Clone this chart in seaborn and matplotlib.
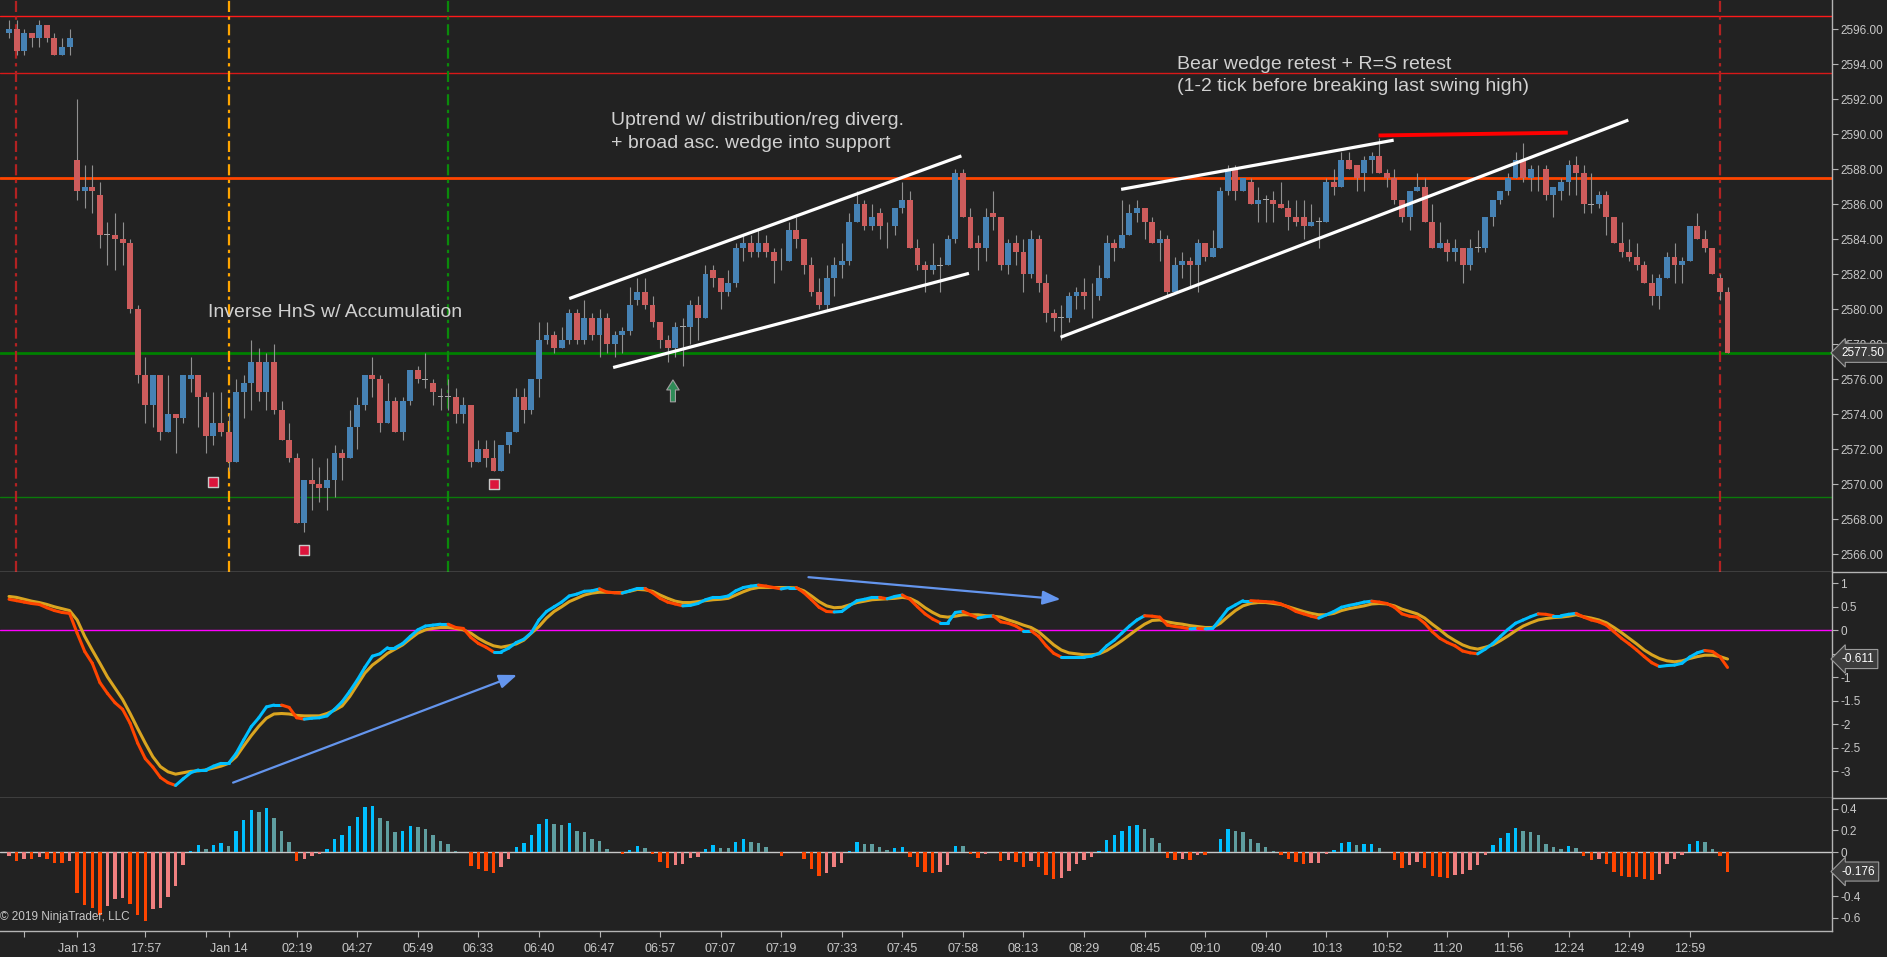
import numpy as np
import matplotlib
matplotlib.use("Agg")
import matplotlib.pyplot as plt
import seaborn as sns
from matplotlib.collections import LineCollection
from matplotlib.lines import Line2D

# ---- price bars (one per bar index) ----
opens = [2595.75, 2596.0, 2594.75, 2595.75, 2595.5, 2596.25, 2595.5, 2594.5, 2595.0, 2588.5,
         2586.75, 2587.0, 2586.5, 2584.25, 2584.25, 2584.0, 2583.75, 2580.0, 2576.25, 2574.5,
         2576.25, 2573.0, 2574.0, 2573.75, 2576.0, 2576.25, 2575.0, 2572.75, 2573.5, 2573.0,
         2571.25, 2575.25, 2575.75, 2577.0, 2575.25, 2577.0, 2574.25, 2572.5, 2571.5, 2567.75,
         2570.25, 2570.0, 2569.75, 2570.25, 2571.75, 2571.5, 2573.25, 2574.5, 2576.25, 2576.0,
         2573.5, 2574.75, 2573.0, 2574.75, 2576.5, 2576.0, 2575.75, 2575.0, 2575.0, 2575.0,
         2574.0, 2574.5, 2571.25, 2572.0, 2571.5, 2570.75, 2572.25, 2573.0, 2575.0, 2574.25,
         2576.0, 2578.25, 2578.5, 2577.75, 2578.25, 2579.75, 2578.25, 2579.5, 2578.5, 2579.5,
         2578.0, 2578.5, 2578.75, 2580.5, 2581.0, 2580.25, 2579.25, 2578.25, 2577.75, 2579.0,
         2579.0, 2580.25, 2579.5, 2582.25, 2581.75, 2581.0, 2581.5, 2583.5, 2583.75, 2583.25,
         2583.75, 2583.25, 2582.75, 2582.75, 2584.5, 2584.0, 2582.5, 2581.0, 2580.25, 2581.75,
         2582.5, 2582.75, 2585.0, 2586.0, 2584.75, 2585.5, 2584.75, 2584.75, 2585.75, 2586.25,
         2583.5, 2582.5, 2582.25, 2582.5, 2582.5, 2584.0, 2587.75, 2585.25, 2583.75, 2583.5,
         2585.5, 2585.25, 2582.5, 2583.75, 2583.25, 2582.0, 2584.0, 2581.5, 2579.75, 2579.5,
         2579.5, 2580.75, 2581.0, 2580.75, 2580.75, 2581.75, 2583.75, 2583.5, 2584.25, 2585.5,
         2585.75, 2585.0, 2583.75, 2584.0, 2581.0, 2582.5, 2582.75, 2582.5, 2583.75, 2583.0,
         2583.5, 2586.75, 2588.0, 2586.75, 2587.25, 2586.0, 2586.25, 2586.25, 2586.0, 2585.75,
         2585.25, 2585.25, 2584.75, 2585.0, 2585.0, 2587.25, 2587.0, 2588.5, 2588.25, 2587.75,
         2588.5, 2588.75, 2587.75, 2587.5, 2586.25, 2585.25, 2586.75, 2587.0, 2585.0, 2583.5,
         2583.75, 2583.25, 2583.5, 2582.5, 2583.5, 2583.5, 2585.25, 2586.25, 2586.75, 2587.5,
         2588.5, 2587.5, 2588.0, 2588.0, 2586.5, 2586.75, 2587.25, 2588.25, 2587.75, 2586.0,
         2586.0, 2586.5, 2585.25, 2583.75, 2583.25, 2583.0, 2582.5, 2581.5, 2580.75, 2581.75,
         2583.0, 2582.5, 2582.75, 2584.75, 2584.0, 2583.5, 2581.75, 2581.0]
closes = [2596.0, 2594.75, 2595.75, 2595.5, 2596.25, 2595.5, 2594.5, 2595.0, 2595.5, 2586.75,
          2587.0, 2586.75, 2584.25, 2584.25, 2584.0, 2583.75, 2580.0, 2576.25, 2574.5, 2576.25,
          2573.0, 2574.0, 2573.75, 2576.25, 2576.25, 2575.0, 2572.75, 2573.5, 2573.0, 2571.25,
          2575.25, 2575.75, 2577.0, 2575.25, 2577.0, 2574.25, 2572.5, 2571.5, 2567.75, 2570.25,
          2570.0, 2569.75, 2570.25, 2571.75, 2571.5, 2573.25, 2574.5, 2576.25, 2576.0, 2573.5,
          2574.75, 2573.0, 2574.75, 2576.5, 2576.0, 2576.0, 2575.25, 2575.0, 2575.0, 2574.0,
          2574.5, 2571.25, 2572.0, 2571.5, 2570.75, 2572.25, 2573.0, 2575.0, 2574.25, 2576.0,
          2578.25, 2578.5, 2577.75, 2578.25, 2579.75, 2578.25, 2579.5, 2578.5, 2579.5, 2578.0,
          2578.5, 2578.75, 2580.25, 2581.0, 2580.25, 2579.25, 2578.25, 2577.75, 2579.0, 2579.0,
          2580.25, 2579.5, 2582.0, 2581.75, 2581.0, 2581.5, 2583.5, 2583.75, 2583.25, 2583.75,
          2583.25, 2582.75, 2582.75, 2584.5, 2584.0, 2582.5, 2581.0, 2580.25, 2581.75, 2582.5,
          2582.75, 2585.0, 2586.0, 2584.75, 2585.25, 2584.75, 2584.75, 2585.75, 2586.25, 2583.5,
          2582.5, 2582.25, 2582.5, 2582.5, 2584.0, 2587.75, 2585.25, 2583.5, 2583.5, 2585.25,
          2585.25, 2582.5, 2583.75, 2583.25, 2582.0, 2584.0, 2581.5, 2579.75, 2579.5, 2579.5,
          2580.75, 2581.0, 2580.75, 2580.75, 2581.75, 2583.75, 2583.5, 2584.25, 2585.5, 2585.75,
          2585.0, 2583.75, 2584.0, 2581.0, 2582.5, 2582.75, 2582.5, 2583.75, 2583.0, 2583.5,
          2586.75, 2588.0, 2586.75, 2587.5, 2586.0, 2586.25, 2586.25, 2586.0, 2585.75, 2585.25,
          2585.0, 2584.75, 2585.0, 2585.0, 2587.25, 2587.0, 2588.5, 2588.0, 2587.5, 2588.5,
          2588.75, 2587.75, 2587.5, 2586.25, 2585.25, 2586.75, 2587.0, 2585.0, 2583.5, 2583.75,
          2583.25, 2583.5, 2582.5, 2583.5, 2583.5, 2585.25, 2586.25, 2586.75, 2587.5, 2588.5,
          2587.5, 2588.0, 2588.0, 2586.5, 2587.0, 2587.25, 2588.25, 2587.75, 2586.0, 2586.0,
          2586.5, 2585.25, 2583.75, 2583.25, 2583.0, 2582.5, 2581.5, 2580.75, 2581.75, 2583.0,
          2582.5, 2582.75, 2584.75, 2584.0, 2583.5, 2582.0, 2581.0, 2577.5]
highs = [2596.5, 2596.5, 2596.0, 2595.75, 2596.5, 2596.25, 2595.75, 2595.5, 2596.0, 2592.0,
         2588.25, 2588.25, 2587.25, 2585.0, 2585.5, 2585.0, 2584.0, 2580.25, 2577.25, 2576.25,
         2576.25, 2576.25, 2574.0, 2576.25, 2577.25, 2576.25, 2575.25, 2575.25, 2575.25, 2574.0,
         2576.0, 2576.25, 2578.25, 2577.75, 2577.5, 2578.0, 2574.75, 2573.5, 2571.75, 2570.25,
         2571.5, 2571.0, 2571.5, 2572.25, 2572.0, 2574.25, 2575.0, 2576.25, 2577.25, 2576.25,
         2575.75, 2575.0, 2575.0, 2576.5, 2576.75, 2577.5, 2576.0, 2575.5, 2576.0, 2575.5,
         2575.0, 2574.5, 2572.5, 2572.5, 2572.5, 2572.25, 2573.0, 2575.5, 2575.5, 2576.0,
         2579.25, 2579.25, 2578.75, 2579.0, 2580.0, 2580.0, 2580.5, 2579.75, 2580.0, 2579.75,
         2578.75, 2579.0, 2581.25, 2581.75, 2581.75, 2580.75, 2579.25, 2578.5, 2579.25, 2579.5,
         2580.5, 2580.75, 2582.5, 2582.5, 2581.75, 2582.25, 2583.75, 2584.25, 2584.25, 2584.5,
         2584.25, 2583.5, 2583.5, 2585.0, 2585.25, 2584.0, 2583.0, 2581.75, 2582.5, 2583.0,
         2583.75, 2585.5, 2586.75, 2586.25, 2586.0, 2585.75, 2585.0, 2585.75, 2587.25, 2586.75,
         2584.0, 2582.75, 2583.75, 2583.0, 2584.25, 2588.0, 2588.0, 2585.75, 2584.25, 2585.75,
         2586.75, 2585.25, 2584.0, 2584.25, 2584.0, 2584.5, 2584.25, 2582.0, 2580.0, 2580.25,
         2581.0, 2581.25, 2581.75, 2581.5, 2582.5, 2584.25, 2584.0, 2586.25, 2586.0, 2586.25,
         2585.75, 2585.25, 2584.5, 2584.25, 2583.0, 2583.25, 2583.0, 2584.0, 2583.75, 2584.5,
         2587.0, 2588.25, 2588.25, 2587.5, 2587.5, 2587.0, 2586.5, 2586.75, 2587.25, 2586.25,
         2586.25, 2586.25, 2586.0, 2585.25, 2587.5, 2588.0, 2589.0, 2589.0, 2588.25, 2588.75,
         2589.0, 2589.75, 2588.0, 2588.0, 2586.25, 2586.75, 2587.75, 2587.5, 2586.0, 2585.0,
         2584.0, 2584.0, 2583.5, 2584.0, 2584.5, 2585.25, 2586.25, 2586.75, 2587.75, 2589.0,
         2589.5, 2588.25, 2588.25, 2588.25, 2587.0, 2587.5, 2588.5, 2588.75, 2588.25, 2587.75,
         2586.75, 2586.75, 2585.25, 2585.0, 2584.0, 2583.75, 2582.75, 2582.0, 2582.0, 2583.25,
         2583.75, 2583.0, 2584.75, 2585.5, 2584.5, 2583.5, 2582.0, 2581.25]
lows = [2595.5, 2594.5, 2594.5, 2595.0, 2595.0, 2595.25, 2594.5, 2594.5, 2594.5, 2586.25,
        2585.75, 2585.5, 2583.5, 2582.5, 2582.25, 2582.5, 2579.75, 2575.75, 2573.5, 2573.25,
        2572.5, 2573.0, 2571.75, 2573.5, 2575.25, 2573.25, 2571.75, 2572.25, 2572.75, 2570.75,
        2571.25, 2573.75, 2574.25, 2574.75, 2574.25, 2574.0, 2572.5, 2571.25, 2567.75, 2567.25,
        2568.5, 2569.0, 2568.5, 2569.25, 2570.25, 2571.5, 2572.0, 2574.25, 2575.0, 2573.0,
        2573.5, 2573.0, 2572.5, 2574.5, 2575.75, 2575.5, 2574.5, 2574.25, 2574.25, 2573.5,
        2573.5, 2571.0, 2571.25, 2571.0, 2570.75, 2570.75, 2571.75, 2573.0, 2573.5, 2574.0,
        2575.0, 2578.0, 2577.5, 2577.75, 2578.0, 2578.0, 2578.0, 2578.25, 2577.25, 2577.5,
        2577.25, 2577.5, 2578.5, 2580.25, 2580.0, 2579.0, 2577.75, 2577.0, 2577.25, 2576.75,
        2578.0, 2578.25, 2579.5, 2581.25, 2580.0, 2580.75, 2581.25, 2582.75, 2583.0, 2583.0,
        2583.0, 2581.5, 2582.25, 2582.75, 2583.5, 2582.0, 2580.75, 2580.0, 2580.0, 2580.75,
        2581.75, 2582.5, 2585.0, 2584.5, 2584.5, 2584.0, 2583.5, 2584.25, 2585.5, 2583.5,
        2582.25, 2581.0, 2582.0, 2581.0, 2582.5, 2583.75, 2585.25, 2583.5, 2582.25, 2582.75,
        2584.5, 2582.25, 2582.0, 2582.5, 2581.0, 2581.75, 2581.0, 2579.25, 2578.75, 2578.25,
        2579.25, 2580.0, 2580.0, 2579.5, 2580.5, 2581.75, 2582.75, 2583.5, 2584.25, 2585.0,
        2584.0, 2583.75, 2582.75, 2580.75, 2581.0, 2581.75, 2581.25, 2581.0, 2582.75, 2583.0,
        2583.5, 2586.5, 2586.25, 2586.75, 2586.0, 2585.0, 2585.0, 2585.0, 2585.75, 2584.5,
        2584.75, 2584.0, 2584.75, 2583.5, 2585.0, 2586.5, 2587.0, 2588.0, 2586.75, 2586.75,
        2587.75, 2587.75, 2587.0, 2586.0, 2585.0, 2584.5, 2586.75, 2585.0, 2583.5, 2583.5,
        2582.75, 2582.75, 2581.5, 2582.25, 2583.25, 2583.25, 2584.75, 2586.0, 2586.5, 2587.5,
        2587.25, 2586.75, 2586.75, 2586.25, 2585.25, 2586.25, 2586.5, 2586.5, 2585.5, 2585.5,
        2585.75, 2584.25, 2583.75, 2583.0, 2582.75, 2582.25, 2581.5, 2580.25, 2580.0, 2581.75,
        2581.5, 2581.5, 2582.75, 2584.0, 2583.25, 2582.0, 2580.5, 2577.5]

# ---- oscillator (fast coloured line + slow line) ----
fast = [0.66, 0.63, 0.60, 0.57, 0.55, 0.48, 0.42, 0.38, 0.36, -0.06,
        -0.45, -0.70, -1.11, -1.34, -1.54, -1.68, -1.98, -2.40, -2.73, -2.91,
        -3.13, -3.24, -3.30, -3.16, -3.03, -2.97, -2.97, -2.89, -2.83, -2.83,
        -2.62, -2.33, -2.05, -1.86, -1.63, -1.59, -1.59, -1.64, -1.86, -1.89,
        -1.87, -1.86, -1.82, -1.68, -1.52, -1.30, -1.06, -0.79, -0.55, -0.50,
        -0.37, -0.37, -0.28, -0.13, 0.01, 0.09, 0.11, 0.13, 0.13, 0.06,
        0.04, -0.15, -0.28, -0.36, -0.46, -0.46, -0.38, -0.26, -0.19, -0.05,
        0.22, 0.40, 0.50, 0.60, 0.73, 0.77, 0.83, 0.84, 0.88, 0.81,
        0.80, 0.79, 0.84, 0.89, 0.89, 0.80, 0.68, 0.60, 0.56, 0.52,
        0.53, 0.57, 0.65, 0.70, 0.70, 0.73, 0.84, 0.91, 0.94, 0.96,
        0.94, 0.91, 0.88, 0.91, 0.91, 0.80, 0.65, 0.49, 0.40, 0.39,
        0.40, 0.52, 0.63, 0.66, 0.70, 0.70, 0.67, 0.72, 0.75, 0.66,
        0.50, 0.35, 0.24, 0.16, 0.16, 0.38, 0.40, 0.33, 0.26, 0.29,
        0.31, 0.18, 0.15, 0.09, -0.01, -0.01, -0.13, -0.33, -0.49, -0.57,
        -0.57, -0.57, -0.57, -0.55, -0.49, -0.33, -0.21, -0.06, 0.09, 0.22,
        0.31, 0.30, 0.28, 0.11, 0.08, 0.06, 0.03, 0.04, 0.03, 0.04,
        0.24, 0.45, 0.54, 0.63, 0.63, 0.62, 0.61, 0.60, 0.56, 0.49,
        0.40, 0.35, 0.30, 0.26, 0.33, 0.40, 0.49, 0.53, 0.56, 0.60,
        0.62, 0.60, 0.57, 0.49, 0.35, 0.30, 0.28, 0.15, -0.03, -0.17,
        -0.26, -0.33, -0.44, -0.48, -0.50, -0.40, -0.28, -0.13, 0.02, 0.15,
        0.22, 0.29, 0.35, 0.34, 0.31, 0.31, 0.34, 0.36, 0.28, 0.22,
        0.18, 0.11, -0.03, -0.17, -0.29, -0.42, -0.56, -0.69, -0.77, -0.75,
        -0.74, -0.70, -0.57, -0.48, -0.43, -0.45, -0.56, -0.79]
slow = [0.72, 0.70, 0.66, 0.62, 0.59, 0.55, 0.50, 0.46, 0.42, 0.22,
        -0.13, -0.42, -0.70, -0.99, -1.23, -1.47, -1.77, -2.09, -2.40, -2.69,
        -2.90, -3.01, -3.06, -3.03, -3.00, -2.99, -2.97, -2.93, -2.89, -2.83,
        -2.69, -2.46, -2.24, -2.04, -1.87, -1.78, -1.77, -1.78, -1.81, -1.82,
        -1.82, -1.82, -1.77, -1.70, -1.61, -1.41, -1.16, -0.91, -0.74, -0.62,
        -0.49, -0.40, -0.31, -0.18, -0.06, 0.01, 0.04, 0.06, 0.06, 0.04,
        0.01, -0.06, -0.17, -0.26, -0.33, -0.36, -0.33, -0.29, -0.21, -0.06,
        0.08, 0.26, 0.40, 0.50, 0.61, 0.68, 0.75, 0.79, 0.81, 0.81,
        0.80, 0.80, 0.83, 0.87, 0.86, 0.83, 0.75, 0.68, 0.62, 0.59,
        0.59, 0.61, 0.63, 0.65, 0.66, 0.68, 0.75, 0.82, 0.88, 0.91,
        0.91, 0.91, 0.91, 0.91, 0.90, 0.84, 0.73, 0.61, 0.52, 0.48,
        0.49, 0.54, 0.59, 0.62, 0.65, 0.66, 0.67, 0.68, 0.70, 0.68,
        0.60, 0.48, 0.38, 0.30, 0.28, 0.30, 0.33, 0.33, 0.33, 0.31,
        0.30, 0.28, 0.22, 0.17, 0.11, 0.06, -0.03, -0.17, -0.31, -0.42,
        -0.48, -0.50, -0.52, -0.52, -0.50, -0.43, -0.33, -0.22, -0.10, 0.02,
        0.13, 0.21, 0.22, 0.18, 0.15, 0.13, 0.10, 0.08, 0.06, 0.06,
        0.15, 0.29, 0.42, 0.52, 0.57, 0.59, 0.59, 0.57, 0.55, 0.50,
        0.45, 0.40, 0.36, 0.33, 0.33, 0.36, 0.42, 0.46, 0.49, 0.52,
        0.56, 0.57, 0.56, 0.52, 0.45, 0.40, 0.35, 0.26, 0.13, 0.01,
        -0.12, -0.22, -0.31, -0.37, -0.40, -0.36, -0.31, -0.22, -0.12, -0.01,
        0.09, 0.16, 0.22, 0.25, 0.27, 0.28, 0.30, 0.33, 0.29, 0.26,
        0.22, 0.16, 0.06, -0.05, -0.17, -0.29, -0.42, -0.52, -0.60, -0.65,
        -0.67, -0.65, -0.60, -0.56, -0.53, -0.53, -0.56, -0.611]

# ---- histogram ----
hist = [-0.03, -0.076, -0.058, -0.064, -0.04, -0.058, -0.095, -0.097, -0.076, -0.37,
        -0.48, -0.51, -0.57, -0.49, -0.43, -0.42, -0.47, -0.57, -0.63, -0.52,
        -0.51, -0.41, -0.31, -0.12, 0.012, 0.064, 0.027, 0.064, 0.085, 0.058,
        0.195, 0.296, 0.387, 0.366, 0.405, 0.314, 0.195, 0.095, -0.076, -0.058,
        -0.03, -0.012, 0.03, 0.125, 0.159, 0.24, 0.323, 0.415, 0.424, 0.314,
        0.287, 0.185, 0.195, 0.24, 0.232, 0.213, 0.159, 0.104, 0.076, 0.012,
        0.0, -0.122, -0.149, -0.168, -0.186, -0.131, -0.058, 0.049, 0.085, 0.159,
        0.259, 0.305, 0.259, 0.25, 0.268, 0.195, 0.186, 0.122, 0.104, 0.03,
        0.0, -0.012, 0.02, 0.058, 0.04, -0.012, -0.085, -0.14, -0.113, -0.104,
        -0.049, -0.045, 0.03, 0.067, 0.04, 0.038, 0.095, 0.122, 0.095, 0.085,
        0.049, 0.003, -0.03, 0.003, 0.0, -0.058, -0.149, -0.213, -0.186, -0.131,
        -0.095, 0.012, 0.095, 0.076, 0.074, 0.049, 0.021, 0.04, 0.049, -0.04,
        -0.131, -0.177, -0.186, -0.177, -0.113, 0.058, 0.055, -0.012, -0.049, -0.012,
        0.003, -0.076, -0.07, -0.085, -0.131, -0.076, -0.131, -0.204, -0.241, -0.232,
        -0.168, -0.104, -0.067, -0.04, 0.012, 0.113, 0.159, 0.195, 0.24, 0.25,
        0.213, 0.131, 0.085, -0.049, -0.067, -0.058, -0.067, -0.021, -0.025, 0.0,
        0.122, 0.213, 0.195, 0.19, 0.122, 0.085, 0.049, 0.012, -0.021, -0.058,
        -0.085, -0.104, -0.10, -0.095, -0.012, 0.021, 0.085, 0.095, 0.067, 0.076,
        0.08, 0.04, 0.0, -0.067, -0.14, -0.113, -0.085, -0.14, -0.213, -0.223,
        -0.232, -0.204, -0.20, -0.159, -0.113, -0.021, 0.067, 0.131, 0.177, 0.223,
        0.195, 0.186, 0.159, 0.076, 0.049, 0.03, 0.058, 0.04, -0.03, -0.067,
        -0.063, -0.104, -0.177, -0.213, -0.223, -0.226, -0.241, -0.25, -0.195, -0.104,
        -0.058, -0.021, 0.076, 0.104, 0.095, 0.03, -0.03, -0.176]

# ---- axis ticks / drawings ----
time_ticks = [2, 9, 18, 26, 29, 38, 46, 54, 62, 70, 78, 86, 94, 102, 110, 118, 126, 134,
              142, 150, 158, 166, 174, 182, 190, 198, 206, 214, 222]
time_labels = ["", "Jan 13", "17:57", "", "Jan 14", "02:19", "04:27", "05:49", "06:33",
               "06:40", "06:47", "06:57", "07:07", "07:19", "07:33", "07:45", "07:58",
               "08:13", "08:29", "08:45", "09:10", "09:40", "10:13", "10:52", "11:20",
               "11:56", "12:24", "12:49", "12:59"]
price_ticks = list(range(2566, 2597, 2))
osc_ticks = [1, 0.5, 0, -0.5, -1, -1.5, -2, -2.5, -3]
osc_labels = ["1", "0.5", "0", "", "-1", "-1.5", "-2", "-2.5", "-3"]
hist_ticks = [0.4, 0.2, 0, -0.2, -0.4, -0.6]
hist_labels = ["0.4", "0.2", "0", "", "-0.4", "-0.6"]

hlines = [(2596.75, "#ff1a1a", 1.0), (2593.5, "#d81818", 1.0), (2587.5, "#ff4500", 2.0),
          (2577.5, "#008000", 2.0), (2569.25, "#0a7a0a", 1.0)]
vlines = [(0.9, "#b22222"), (29.0, "#ffa500"), (58.0, "#0a8a0a"), (226.0, "#b22222")]
trend_lines = [((74.0, 2580.6), (125.8, 2588.75)), ((79.8, 2576.66), (126.8, 2582.04)),
               ((146.9, 2586.84), (182.9, 2589.65)), ((138.9, 2578.39), (213.9, 2590.8))]
red_line = ((180.9, 2589.92), (205.9, 2590.08))
square_x = [27, 39, 64]
square_y = [2570.12, 2566.25, 2570.0]

bg = "#222222"
axis_col = "#b4b4b4"
label_col = "#c8c8c8"
text_col = "#d0d0d0"

sns.set_theme(style="dark")
sans = ["Liberation Sans", "DejaVu Sans"]
plt.rcParams["font.family"] = sans

fig = plt.figure(figsize=(18.87, 9.57), dpi=100, facecolor=bg)
ax1 = fig.add_axes([0, 0.4020, 0.97085, 0.5980])
ax2 = fig.add_axes([0, 0.1658, 0.97085, 0.2362])
ax3 = fig.add_axes([0, 0.0272, 0.97085, 0.1386])

bars = np.arange(len(opens))
for ax in (ax1, ax2, ax3):
    ax.set_facecolor(bg)
    ax.set_xlim(-1.19, 240.8)
    ax.grid(False)
    for s in ("left", "top"):
        ax.spines[s].set_visible(False)
    for s in ("right", "bottom"):
        ax.spines[s].set_color(axis_col)
        ax.spines[s].set_linewidth(1.0)
    ax.yaxis.tick_right()
    ax.tick_params(axis="y", right=True, left=False, labelright=True, labelleft=False,
                   direction="out", length=4, width=0.8, color=axis_col,
                   labelcolor=label_col, labelsize=8.5, pad=2)
    ax.set_xlabel("")
    ax.set_ylabel("")

# separators continue under the price scale
for yy in (0.4020, 0.1658):
    fig.add_artist(Line2D([0.97085, 1.0], [yy, yy], transform=fig.transFigure,
                          color=axis_col, lw=1.0))

# ---------------- price panel ----------------
o = np.array(opens)
c = np.array(closes)
h = np.maximum(np.array(highs), np.maximum(o, c))
l = np.minimum(np.array(lows), np.minimum(o, c))
doji = c == o
body_col = np.where(c > o, "#4682b4", np.where(c < o, "#cd5c5c", "#a8a8a8"))
body_h = np.where(doji, 0.05, np.abs(c - o))
body_b = np.minimum(o, c) - np.where(doji, 0.025, 0)

for y, col, lw in hlines:
    ax1.axhline(y, color=col, lw=lw, zorder=1)
for x, col in vlines:
    ax1.axvline(x, color=col, lw=1.6, ls=(0, (5, 2, 1.5, 2)), zorder=1)

ax1.vlines(bars, l, h, color="#909090", lw=0.8, zorder=2)
ax1.bar(bars, body_h, bottom=body_b, width=0.78, color=body_col, linewidth=0, zorder=3)

for (x0, y0), (x1, y1) in trend_lines:
    ax1.plot([x0, x1], [y0, y1], color="white", lw=2.3, solid_capstyle="butt", zorder=4)
ax1.plot([red_line[0][0], red_line[1][0]], [red_line[0][1], red_line[1][1]],
         color="#ff0000", lw=2.8, solid_capstyle="butt", zorder=4)

sns.scatterplot(x=square_x, y=square_y, ax=ax1, marker="s", s=55, color="#dc143c",
                edgecolor="#c8c8c8", linewidth=1.0, zorder=5, legend=False)
ax1.annotate("", xy=(87.7, 2575.95), xytext=(87.7, 2574.7),
             arrowprops=dict(arrowstyle="simple,head_length=0.6,head_width=0.75,tail_width=0.3",
                             fc="#2e8b57", ec="#a0a0a0", lw=0.8, shrinkA=0, shrinkB=0),
             zorder=5)

ann = dict(color=text_col, fontsize=14, family=sans, va="center", ha="left", zorder=6)
ax1.text(26.3, 2579.78, "Inverse HnS w/ Accumulation", **ann)
ax1.text(79.5, 2590.78, "Uptrend w/ distribution/reg diverg.", **ann)
ax1.text(79.5, 2589.47, "+ broad asc. wedge into support", **ann)
ax1.text(154.3, 2594.0, "Bear wedge retest + R=S retest", **ann)
ax1.text(154.3, 2592.69, "(1-2 tick before breaking last swing high)", **ann)

ax1.set_ylim(2564.96, 2597.66)
ax1.set_yticks(price_ticks)
ax1.set_yticklabels([f"{v:.2f}" for v in price_ticks])
ax1.tick_params(axis="x", bottom=False, labelbottom=False)


def value_box(ax, y, text):
    ax.text(1.0052, y, text, transform=ax.get_yaxis_transform(), ha="left", va="center",
            fontsize=8.5, color="white", clip_on=False, zorder=20,
            bbox=dict(boxstyle="larrow,pad=0.3", fc="#3d3d3d", ec="#9c9c9c", lw=0.8))


value_box(ax1, closes[-1], f"{closes[-1]:.2f}")

# ---------------- oscillator ----------------
ax2.axhline(0, color="#ff00ff", lw=1.0, zorder=1)
sns.lineplot(x=bars, y=slow, ax=ax2, color="#daa520", linewidth=2.2, zorder=3)
fv = np.array(fast)
pts = np.column_stack([bars, fv])
segs = np.stack([pts[:-1], pts[1:]], axis=1)
seg_col = np.where(np.diff(fv) >= 0, "#00bfff", "#ff4500")
ax2.add_collection(LineCollection(segs, colors=seg_col, linewidths=2.2, zorder=4,
                                  capstyle="round"))
arrow = dict(arrowstyle="-|>,head_length=0.9,head_width=0.35", color="#6495ed", lw=1.6,
             shrinkA=0, shrinkB=0)
ax2.annotate("", xy=(67.1, -0.95), xytext=(29.6, -3.24), arrowprops=arrow, zorder=5)
ax2.annotate("", xy=(138.9, 0.66), xytext=(105.6, 1.13), arrowprops=arrow, zorder=5)

ax2.set_ylim(-3.574, 1.234)
ax2.set_yticks(osc_ticks)
ax2.set_yticklabels(osc_labels)
ax2.tick_params(axis="x", bottom=False, labelbottom=False)
value_box(ax2, slow[-1], f"{slow[-1]:.3f}")

# ---------------- histogram ----------------
hv = np.array(hist)
dh = np.diff(hv, prepend=hv[0])
hist_col = np.where(hv >= 0, np.where(dh > 0, "#00bfff", "#5f9ea0"),
                    np.where(dh < 0, "#ff4500", "#f08080"))
ax3.axhline(0, color="#c8c8c8", lw=1.0, zorder=1)
ax3.bar(bars, hv, width=0.45, color=hist_col, linewidth=0, zorder=2)
ax3.set_ylim(-0.72, 0.494)
ax3.set_yticks(hist_ticks)
ax3.set_yticklabels(hist_labels)
value_box(ax3, hist[-1], f"{hist[-1]:.3f}")

ax3.set_xticks(time_ticks)
ax3.set_xticklabels(time_labels)
ax3.tick_params(axis="x", bottom=True, direction="out", length=4.5, width=0.8,
                color=axis_col, labelcolor=label_col, labelsize=9, pad=4)
ax3.text(-1.19, -0.59, "\u00a9 2019 NinjaTrader, LLC", color=label_col, fontsize=8.5,
         ha="left", va="center")

fig.savefig("out.png", dpi=100, facecolor=bg)
